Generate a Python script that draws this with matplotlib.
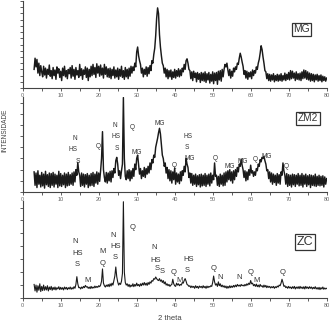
import numpy as np
import matplotlib
matplotlib.use("Agg")
import matplotlib.pyplot as plt
from matplotlib.ticker import MultipleLocator

plt.rcParams['font.family'] = ['Liberation Sans', 'DejaVu Sans']

# 2 theta grid, 0.25 degree step from 3 to 80
two_theta = np.arange(3.0, 80.001, 0.25)

# MG sample counts, one row = 5 degrees
mg_counts = [
    150, 240, 170, 230, 120, 200, 100, 180, 130, 90, 175, 105, 160, 80, 150, 110, 185, 95, 140, 75,
    165, 100, 145, 70, 170, 120, 155, 85, 135, 60, 160, 100, 175, 90, 140, 75, 150, 115, 165, 80,
    180, 95, 150, 70, 165, 105, 140, 85, 190, 100, 155, 70, 145, 110, 170, 85, 160, 60, 150, 90,
    175, 100, 190, 110, 165, 85, 195, 120, 175, 95, 185, 105, 160, 80, 190, 110, 170, 90, 155, 85,
    160, 75, 150, 100, 170, 80, 145, 90, 160, 70, 150, 95, 175, 85, 140, 70, 165, 90, 150, 75,
    160, 95, 175, 120, 170, 140, 200, 170, 290, 330, 260, 220, 190, 120, 160, 90, 150, 110, 170, 95,
    165, 115, 180, 140, 220, 200, 270, 320, 420, 560, 645, 600, 430, 330, 260, 200, 180, 120, 160, 90,
    150, 75, 140, 90, 145, 70, 130, 85, 150, 80, 140, 95, 155, 90, 145, 100, 160, 130, 190, 150,
    220, 235, 200, 150, 140, 75, 130, 60, 135, 85, 120, 50, 125, 70, 115, 45, 125, 60, 120, 55,
    130, 45, 115, 65, 125, 40, 110, 55, 130, 35, 120, 60, 125, 30, 135, 65, 140, 55, 150, 90,
    150, 190, 170, 200, 145, 100, 150, 80, 135, 95, 160, 130, 170, 150, 200, 190, 240, 280, 250, 210,
    175, 110, 140, 80, 135, 70, 125, 90, 130, 75, 145, 100, 140, 120, 170, 150, 200, 230, 280, 340,
    310, 250, 200, 140, 130, 75, 115, 60, 110, 55, 105, 65, 115, 50, 100, 60, 110, 55, 105, 60,
    115, 55, 100, 65, 120, 60, 110, 70, 125, 65, 140, 75, 135, 80, 120, 60, 130, 70, 115, 65,
    120, 60, 130, 75, 145, 80, 140, 70, 130, 65, 120, 55, 115, 60, 110, 50, 105, 65, 110, 55,
    100, 60, 105, 50, 95, 60, 90, 55, 80,
]

# ZM2 sample counts
zm2_counts = [
    180, 60, 170, 40, 190, 70, 150, 45, 175, 55, 160, 35, 185, 65, 155, 50, 170, 40, 165, 60,
    175, 45, 160, 70, 150, 40, 185, 55, 165, 50, 150, 65, 170, 40, 160, 55, 175, 60, 155, 70,
    170, 60, 180, 90, 200, 150, 265, 180, 150, 50, 170, 60, 160, 45, 155, 70, 165, 40, 150, 55,
    165, 60, 175, 50, 160, 80, 180, 70, 170, 95, 190, 300, 540, 200, 130, 90, 175, 80, 170, 100,
    185, 90, 190, 130, 210, 170, 280, 310, 250, 150, 190, 120, 190, 250, 845, 300, 140, 110, 190, 120,
    200, 100, 190, 120, 210, 140, 250, 200, 300, 330, 240, 160, 210, 120, 190, 140, 220, 130, 210, 160,
    230, 170, 260, 200, 290, 260, 330, 310, 400, 440, 480, 530, 570, 520, 420, 330, 300, 230, 260, 170,
    220, 120, 200, 100, 190, 80, 180, 110, 215, 70, 170, 90, 160, 75, 180, 100, 190, 150, 230, 180,
    300, 250, 220, 130, 170, 80, 165, 60, 150, 70, 160, 50, 145, 65, 155, 45, 160, 55, 150, 60,
    165, 50, 150, 70, 160, 55, 170, 80, 150, 110, 260, 140, 150, 60, 140, 50, 160, 70, 150, 55,
    170, 60, 180, 90, 190, 110, 200, 100, 180, 80, 190, 110, 200, 140, 220, 180, 250, 230, 295, 240,
    200, 130, 190, 100, 180, 110, 200, 150, 240, 170, 190, 140, 180, 150, 210, 190, 250, 230, 290, 270,
    310, 300, 320, 280, 250, 190, 200, 120, 180, 90, 170, 70, 160, 85, 150, 60, 165, 80, 155, 70,
    180, 150, 260, 190, 150, 70, 165, 50, 155, 60, 150, 45, 160, 65, 155, 50, 150, 70, 165, 55,
    150, 60, 165, 45, 150, 70, 160, 50, 145, 65, 155, 40, 150, 60, 145, 55, 160, 50, 140, 60,
    150, 55, 140, 60, 145, 45, 135, 70, 120,
]

# ZC sample counts
zc_counts = [
    210, 110, 200, 90, 190, 120, 220, 100, 180, 115, 200, 120, 175, 125, 190, 110, 170, 130, 180, 120,
    165, 130, 170, 125, 160, 140, 175, 130, 165, 135, 160, 125, 170, 140, 165, 130, 160, 140, 170, 135,
    160, 140, 175, 150, 210, 330, 220, 160, 165, 140, 170, 150, 180, 160, 195, 170, 175, 150, 170, 145,
    180, 150, 170, 155, 185, 160, 180, 165, 190, 175, 200, 260, 450, 230, 190, 170, 200, 180, 210, 175,
    220, 185, 230, 200, 270, 340, 480, 330, 250, 200, 230, 210, 260, 380, 1490, 400, 240, 200, 220, 180,
    210, 170, 200, 180, 220, 175, 210, 185, 230, 190, 210, 180, 220, 190, 230, 200, 240, 200, 230, 195,
    240, 210, 250, 230, 270, 260, 300, 290, 325, 300, 280, 270, 300, 260, 280, 240, 270, 220, 250, 200,
    220, 190, 210, 180, 200, 210, 290, 220, 190, 180, 230, 200, 220, 190, 210, 200, 240, 230, 270, 300,
    260, 210, 200, 180, 190, 160, 185, 165, 180, 150, 190, 160, 180, 150, 185, 165, 180, 155, 190, 160,
    180, 150, 185, 160, 180, 170, 190, 180, 240, 340, 250, 200, 220, 180, 250, 190, 220, 175, 200, 170,
    190, 160, 185, 150, 180, 155, 190, 160, 185, 165, 195, 170, 200, 175, 210, 185, 200, 180, 210, 190,
    200, 185, 210, 190, 220, 200, 230, 210, 270, 220, 230, 190, 210, 180, 215, 175, 200, 170, 210, 180,
    190, 165, 200, 170, 195, 160, 185, 165, 180, 155, 175, 160, 180, 150, 175, 160, 185, 170, 200, 190,
    230, 290, 240, 180, 190, 160, 175, 150, 180, 155, 170, 145, 175, 150, 180, 140, 170, 150, 175, 145,
    180, 150, 170, 145, 175, 140, 180, 150, 170, 145, 175, 150, 170, 140, 165, 145, 175, 140, 160, 135,
    165, 130, 160, 140, 170, 135, 155, 140, 150,
]

# phase labels: (text, 2theta, intensity)
zm2_labels = [
    ("N", 13.8, 483), ("HS", 13.2, 376), ("S", 14.6, 277),
    ("Q", 19.8, 411),
    ("N", 24.3, 599), ("HS", 24.6, 501), ("S", 24.8, 385),
    ("Q", 28.8, 581), ("MG", 36.1, 617), ("MG", 30.1, 358),
    ("HS", 43.5, 501), ("S", 43.2, 394), ("MG", 44.0, 304),
    ("Q", 39.8, 241), ("Q", 50.6, 304), ("MG", 54.6, 224),
    ("MG", 58.0, 277), ("Q", 61.1, 295), ("MG", 64.3, 322),
    ("Q", 69.3, 224),
]
zc_labels = [
    ("N", 13.9, 870), ("HS", 14.5, 691), ("S", 14.4, 521),
    ("M", 17.0, 278),
    ("M", 21.1, 716), ("Q", 21.1, 536),
    ("N", 23.8, 974), ("HS", 24.5, 804), ("S", 24.3, 623),
    ("Q", 28.8, 1087),
    ("N", 34.6, 777), ("HS", 35.0, 587), ("S", 35.4, 459), ("S", 36.7, 417),
    ("Q", 39.8, 391), ("M", 41.4, 267),
    ("HS", 43.6, 598), ("S", 43.2, 422),
    ("Q", 50.3, 459), ("N", 51.9, 314), ("N", 57.0, 314),
    ("Q", 60.0, 391), ("M", 61.6, 267), ("Q", 68.4, 391),
]

fig = plt.figure(figsize=(3.34, 3.22), dpi=100)

panels = [
    # counts, ylim, ytick step, rect, sample name, name pos, name size, line width
    (mg_counts, 700, 50, [0.068, 0.7267, 0.910, 0.270], "MG", (73.4, 472), 7.4, 1.05),
    (zm2_counts, 850, 100, [0.068, 0.4037, 0.910, 0.295], "ZM2", (75.1, 662), 7.2, 1.05),
    (zc_counts, 1500, 200, [0.068, 0.0745, 0.910, 0.301], "ZC", (74.3, 870), 9, 0.8),
]

axes = []
for counts, ymax, ystep, rect, name, npos, nsize, lw in panels:
    ax = fig.add_axes(rect)
    ax.plot(two_theta, counts, color='#1a1a1a', lw=lw)
    ax.set_xlim(0, 80)
    ax.set_ylim(0, ymax)
    ax.spines['top'].set_visible(False)
    ax.spines['right'].set_visible(False)
    for s in ['left', 'bottom']:
        ax.spines[s].set_color('#444444')
        ax.spines[s].set_linewidth(0.8)
    ax.xaxis.set_major_locator(MultipleLocator(10))
    ax.xaxis.set_minor_locator(MultipleLocator(5))
    ax.yaxis.set_major_locator(MultipleLocator(ystep))
    ax.tick_params(axis='x', which='both', direction='out', length=2,
                   width=0.6, color='#444444', labelsize=4, labelcolor='#666666', pad=1.5)
    ax.tick_params(axis='y', which='both', direction='out', length=2,
                   width=0.6, color='#444444', labelleft=False)
    ax.text(npos[0], npos[1], name, fontsize=nsize, color='#333333',
            ha='center', va='center',
            bbox=dict(boxstyle='square,pad=0.15', fc='white', ec='#333333', lw=0.9))
    axes.append(ax)

for txt, x, y in zm2_labels:
    axes[1].text(x, y, txt, fontsize=4.7, color='#333333', ha='center', va='center')
for txt, x, y in zc_labels:
    axes[2].text(x, y, txt, fontsize=5.5, color='#333333', ha='center', va='center')

fig.text(170 / 334, 1 - 318 / 322, "2 theta", fontsize=5.5, color='#444444',
         ha='center', va='center')
fig.text(5 / 334, 1 - 130 / 322, "INTENSIDADE", fontsize=4.7, color='#444444',
         ha='center', va='center', rotation=90)

fig.savefig("out.png", dpi=100)
